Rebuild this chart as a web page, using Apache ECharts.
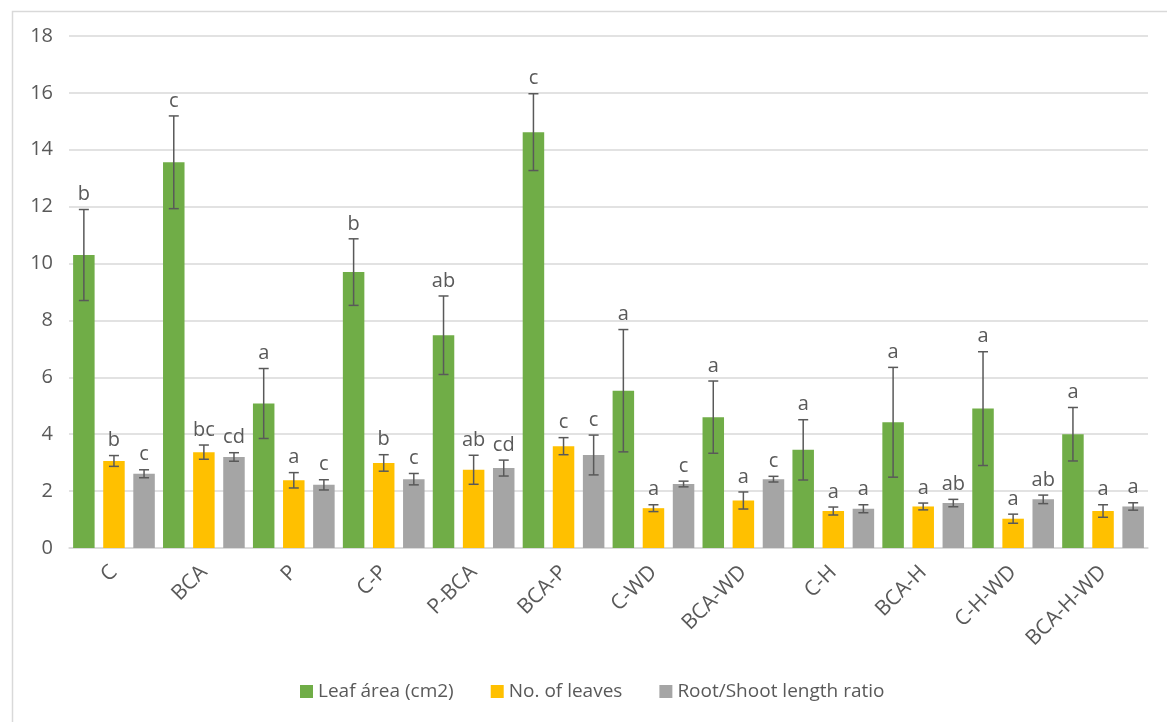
<!DOCTYPE html>
<html>
<head>
<meta charset="utf-8">
<script src="https://cdn.jsdelivr.net/npm/echarts@6/dist/echarts.min.js"></script>
<style>
html,body{margin:0;padding:0;background:#fff;}
#chart{width:1167px;height:722px;}
</style>
</head>
<body>
<div id="chart"></div>
<script>
const categories = ['C','BCA','P','C-P','P-BCA','BCA-P','C-WD','BCA-WD','C-H','BCA-H','C-H-WD','BCA-H-WD'];
const yTicks = [0,2,4,6,8,10,12,14,16,18];

const leafArea    = [10.3, 13.56, 5.08, 9.7, 7.48, 14.62, 5.53, 4.6, 3.45, 4.42, 4.9, 4.0];
const leafAreaErr = [1.6, 1.63, 1.23, 1.17, 1.38, 1.35, 2.15, 1.27, 1.06, 1.93, 2.0, 0.94];
const leafAreaLet = ['b','c','a','b','ab','c','a','a','a','a','a','a'];

const noLeaves    = [3.06, 3.37, 2.38, 2.99, 2.75, 3.58, 1.4, 1.67, 1.3, 1.46, 1.03, 1.3];
const noLeavesErr = [0.19, 0.25, 0.27, 0.29, 0.51, 0.3, 0.12, 0.3, 0.14, 0.12, 0.16, 0.22];
const noLeavesLet = ['b','bc','a','b','ab','c','a','a','a','a','a','a'];

const ratio       = [2.61, 3.2, 2.22, 2.42, 2.81, 3.27, 2.25, 2.42, 1.38, 1.58, 1.71, 1.46];
const ratioErr    = [0.14, 0.15, 0.18, 0.2, 0.28, 0.7, 0.1, 0.1, 0.14, 0.13, 0.15, 0.13];
const ratioLet    = ['c','cd','c','c','cd','c','c','c','a','ab','ab','a'];

const seriesNames = ['Leaf área (cm2)', 'No. of leaves', 'Root/Shoot length ratio'];
const colors = ['#70AD47', '#FFC000', '#A5A5A5'];

const BAR_W = 21.5;
const BAR_GAP = 0.4;
const FONT = '"Open Sans", "Noto Sans", sans-serif';
const TEXT_COLOR = '#595959';

const chart = echarts.init(document.getElementById('chart'));

function errSeries(idx, vals, errs, lets) {
  const data = vals.map((v, i) => [i, v, errs[i]]);
  return {
    type: 'custom',
    name: 'err' + idx,
    z: 5,
    silent: true,
    data: data,
    encode: { x: 0, y: 1 },
    renderItem: function (params, api) {
      const i = api.value(0);
      const v = api.value(1);
      const e = api.value(2);
      const letter = lets[i];
      const offset = (idx - 1) * (BAR_W + BAR_W * BAR_GAP);
      const top = api.coord([i, v + e]);
      const bot = api.coord([i, v - e]);
      const x = top[0] + offset;
      const cw = 5;
      const st = { stroke: '#595959', lineWidth: 1.5 };
      return {
        type: 'group',
        children: [
          { type: 'line', shape: { x1: x, y1: top[1], x2: x, y2: bot[1] }, style: st },
          { type: 'line', shape: { x1: x - cw, y1: top[1], x2: x + cw, y2: top[1] }, style: st },
          { type: 'line', shape: { x1: x - cw, y1: bot[1], x2: x + cw, y2: bot[1] }, style: st },
          { type: 'text', style: { x: x, y: top[1] - 5, text: letter, fill: TEXT_COLOR,
              font: '20px ' + FONT, textAlign: 'center', textVerticalAlign: 'bottom' } }
        ]
      };
    }
  };
}

const option = {
  backgroundColor: '#fff',
  animation: false,
  graphic: [{
    type: 'rect', left: 10, top: 9, silent: true,
    shape: { width: 1200, height: 800 },
    style: { fill: 'none', stroke: '#d9d9d9', lineWidth: 1.5 }
  }],
  grid: { left: 69, right: 19, top: 36, bottom: 174 },
  legend: {
    data: seriesNames,
    left: 295,
    top: 677,
    itemWidth: 13,
    itemHeight: 13,
    itemGap: 37,
    icon: 'rect',
    textStyle: { color: TEXT_COLOR, fontSize: 19, fontFamily: FONT }
  },
  xAxis: {
    type: 'category',
    data: categories,
    axisLine: { show: true, lineStyle: { color: '#d9d9d9', width: 1.5 } },
    axisTick: { show: false },
    axisLabel: { rotate: 45, margin: 21, color: TEXT_COLOR, fontSize: 21, fontFamily: FONT, interval: 0 }
  },
  yAxis: {
    type: 'value',
    min: yTicks[0],
    max: yTicks[yTicks.length - 1],
    interval: yTicks[1] - yTicks[0],
    axisLine: { show: false },
    axisTick: { show: false },
    splitLine: { lineStyle: { color: '#d9d9d9', width: 1.5 } },
    axisLabel: { color: TEXT_COLOR, fontSize: 20, fontFamily: FONT, margin: 16 }
  },
  series: [
    { type: 'bar', name: seriesNames[0], data: leafArea, barWidth: BAR_W, barGap: (BAR_GAP * 100) + '%', itemStyle: { color: colors[0] } },
    { type: 'bar', name: seriesNames[1], data: noLeaves, barWidth: BAR_W, barGap: (BAR_GAP * 100) + '%', itemStyle: { color: colors[1] } },
    { type: 'bar', name: seriesNames[2], data: ratio, barWidth: BAR_W, barGap: (BAR_GAP * 100) + '%', itemStyle: { color: colors[2] } },
    errSeries(0, leafArea, leafAreaErr, leafAreaLet),
    errSeries(1, noLeaves, noLeavesErr, noLeavesLet),
    errSeries(2, ratio, ratioErr, ratioLet)
  ]
};
chart.setOption(option);
</script>
</body>
</html>
